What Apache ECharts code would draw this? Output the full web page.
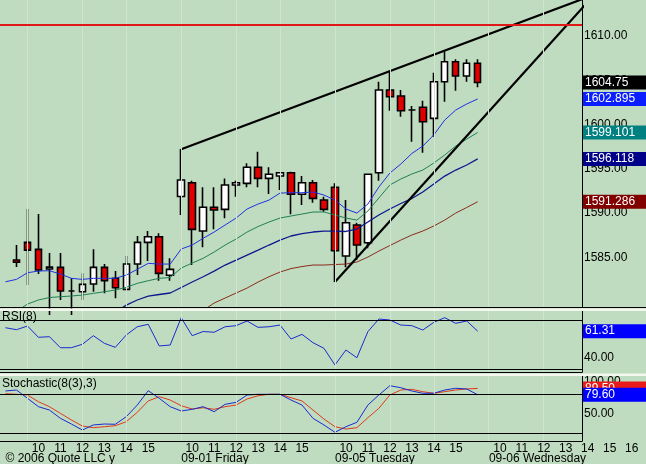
<!DOCTYPE html>
<html><head><meta charset="utf-8">
<script src="https://cdn.jsdelivr.net/npm/echarts@6/dist/echarts.min.js"></script>
<style>html,body{margin:0;padding:0;background:#C0DCC0}#c{width:646px;height:464px}</style>
</head><body><div id="c"></div>
<script>
// ---------- data ----------
const prevDaySlots = ['08-30 15:30', '08-30 16:00'];
const days = ['08-31', '09-01', '09-05', '09-06'];
const times = ['09:30','10:00','10:30','11:00','11:30','12:00','12:30','13:00','13:30','14:00','14:30','15:00','15:30','16:00'];
const hourTicks = ['', '10', '', '11', '', '12', '', '13', '', '14', '', '15', '', ''];
const lastDayHourTicks = ['', '10', '', '11', '', '12', '', '13', '', '14', '', '15', '', '16'];
const dateLabels = ['© 2006 Quote LLC y', '09-01 Friday', '09-05 Tuesday', '09-06 Wednesday'];
const priceTicks = [1585, 1590, 1595, 1600, 1605, 1610];
const rsiTicks = [40, 60];
const stochTicks = [50, 100];
const guideSlots = [2, 7, 11, 16, 21, 25, 30, 35, 39, 44, 49];
const resistance = 1611.32;

const openP  = [null, 1584.70, 1586.69, 1585.90, 1583.68, 1583.87, 1581.20, 1581.11, 1581.98, 1583.87, 1582.63, 1581.38, 1584.24, 1586.69, 1587.33, 1582.97, 1591.87, 1593.43, 1587.97, 1590.65, 1590.42, 1593.17, 1593.36, 1595.17, 1593.92, 1594.18, 1594.56, 1592.12, 1593.43, 1591.47, 1592.91, 1585.15, 1588.65, 1586.65, 1594.56, 1603.90, 1603.22, 1601.64, 1601.95, 1600.70, 1604.84, 1607.10, 1605.48, 1606.92];
const closeP = [null, 1584.44, 1585.82, 1583.57, 1583.90, 1581.19, 1581.20, 1581.95, 1583.87, 1582.36, 1581.57, 1584.24, 1586.69, 1587.33, 1583.19, 1583.64, 1593.73, 1588.16, 1590.65, 1590.34, 1593.17, 1593.43, 1595.17, 1593.92, 1594.38, 1594.56, 1592.12, 1593.43, 1591.66, 1590.42, 1585.75, 1588.91, 1586.39, 1594.38, 1603.90, 1603.14, 1601.56, 1601.64, 1600.32, 1604.84, 1607.10, 1605.48, 1606.92, 1604.75];
const lowP   = [null, 1583.90, 1581.87, 1583.11, 1578.50, 1580.18, 1578.50, 1580.18, 1581.11, 1580.93, 1580.37, 1581.30, 1583.00, 1584.58, 1582.36, 1582.36, 1589.78, 1584.13, 1586.13, 1588.16, 1589.41, 1591.85, 1592.91, 1592.91, 1592.15, 1592.60, 1589.86, 1590.91, 1591.17, 1590.15, 1582.21, 1583.87, 1584.70, 1586.02, 1593.65, 1601.56, 1600.88, 1598.06, 1596.82, 1598.62, 1602.58, 1603.82, 1604.84, 1604.20];
const highP  = [null, 1586.39, 1590.46, 1589.89, 1585.49, 1585.49, 1582.63, 1583.19, 1585.90, 1584.24, 1583.45, 1585.15, 1587.41, 1587.97, 1587.71, 1584.89, 1597.23, 1593.65, 1592.91, 1592.91, 1593.92, 1593.65, 1595.62, 1596.93, 1595.17, 1594.56, 1594.67, 1594.18, 1593.73, 1591.85, 1593.36, 1591.47, 1588.91, 1594.41, 1604.84, 1606.08, 1603.90, 1602.09, 1602.69, 1605.85, 1608.23, 1607.37, 1607.37, 1607.37];

const maBlue  = [1582.24, 1582.51, 1583.26, 1583.45, 1583.49, 1583.11, 1582.63, 1582.51, 1582.63, 1582.63, 1582.63, 1583.00, 1583.64, 1584.32, 1584.24, 1584.24, 1585.94, 1586.39, 1587.15, 1587.86, 1588.65, 1589.44, 1590.46, 1591.02, 1591.47, 1592.26, 1592.30, 1592.30, 1592.38, 1592.04, 1591.47, 1590.46, 1590.00, 1591.02, 1592.94, 1594.52, 1595.54, 1596.73, 1597.57, 1598.82, 1600.51, 1601.64, 1602.32, 1602.895];
const maGreen = [null, 1578.90, 1579.72, 1580.18, 1580.46, 1580.55, 1580.63, 1580.74, 1580.93, 1581.11, 1581.31, 1581.61, 1582.06, 1582.36, 1582.63, 1582.72, 1583.79, 1584.36, 1584.89, 1585.60, 1586.39, 1587.07, 1587.86, 1588.48, 1588.99, 1589.44, 1589.67, 1589.89, 1590.12, 1590.12, 1589.78, 1589.44, 1589.21, 1590.23, 1591.70, 1593.17, 1593.85, 1594.41, 1594.86, 1595.65, 1596.56, 1597.57, 1598.36, 1599.101];
const maNavy  = [null, null, null, null, null, null, null, null, null, null, 1578.80, 1579.60, 1580.18, 1580.63, 1580.80, 1580.97, 1581.59, 1582.21, 1582.81, 1583.45, 1584.13, 1584.69, 1585.26, 1585.82, 1586.39, 1586.95, 1587.41, 1587.69, 1587.86, 1587.97, 1587.97, 1587.92, 1588.20, 1588.99, 1589.78, 1590.46, 1591.08, 1591.64, 1592.38, 1593.28, 1594.18, 1594.86, 1595.43, 1596.118];
const maBrown = [null, null, null, null, null, null, null, null, null, null, null, null, null, null, null, null, null, null, 1579.00, 1579.84, 1580.40, 1580.97, 1581.53, 1582.21, 1582.81, 1583.34, 1583.73, 1583.96, 1584.13, 1584.13, 1584.19, 1584.24, 1584.47, 1585.03, 1585.71, 1586.33, 1586.95, 1587.52, 1587.97, 1588.54, 1589.21, 1590.00, 1590.63, 1591.286];

const upperTrendAnchors = [[16, 1597.20], [40, 1608.35]];
const lowerTrendAnchors = [[30, 1582.21], [46, 1604.19]];

const rsi8 = [64.1, 62.5, 65.5, 56.3, 56.8, 47.8, 47.8, 50.6, 57.6, 51.4, 48.1, 58.2, 64.9, 66.9, 49.2, 50.0, 72.3, 57.6, 61.0, 60.4, 64.9, 65.8, 69.6, 64.4, 64.9, 66.3, 54.9, 58.7, 51.9, 47.3, 33.7, 45.9, 39.6, 60.9, 71.2, 70.4, 66.3, 65.8, 62.2, 68.5, 72.3, 67.7, 69.6, 61.31];
const rsiLevels = [70, 30];
const stochK = [85.5, 87.0, 74.1, 61.0, 55.8, 42.9, 34.0, 24.7, 32.5, 34.0, 33.6, 45.4, 63.6, 85.9, 74.1, 61.0, 54.3, 56.9, 61.0, 53.2, 64.7, 67.8, 79.2, 80.3, 80.3, 80.3, 71.4, 63.6, 42.9, 32.5, 21.1, 29.8, 36.7, 63.6, 79.2, 93.7, 90.6, 85.5, 81.9, 81.9, 87.0, 89.7, 88.6, 79.6];
const stochD = [81.2, 80.3, 79.2, 68.8, 61.0, 50.7, 40.3, 30.9, 28.3, 29.8, 31.4, 37.6, 52.3, 69.9, 76.6, 71.4, 62.5, 57.4, 59.4, 56.9, 61.0, 63.6, 73.0, 78.1, 80.3, 80.3, 75.0, 69.9, 55.8, 41.8, 29.8, 26.2, 28.3, 43.8, 58.5, 79.2, 87.0, 88.1, 84.4, 81.9, 84.4, 87.0, 88.6, 89.5];
const stochLevels = [80, 20];

// ---------- build ----------
const FONT = '"Liberation Sans", Arial, sans-serif';
const allSlots = prevDaySlots.concat(...days.map(d => times.map(t => d + ' ' + t)));
const NMAIN = 53;
const mainSlots = allSlots.slice(0, NMAIN);
const hourLabelAt = ['', ''].concat(...days.map((d, i) => i === days.length - 1 ? lastDayHourTicks : hourTicks));
const dateLabelAt = allSlots.map(() => '');
dateLabelAt[0] = dateLabels[0];
for (let i = 1; i < days.length; i++) dateLabelAt[2 + i * times.length] = dateLabels[i];

const SLOT = 11.038, LEFT = -3;
const BG = '#C0DCC0';

const candleData = openP.map((o, i) => o == null ? ['-', '-', '-', '-'] : [o, closeP[i], lowP[i], highP[i]]);
const pairs = arr => arr.map((v, i) => [i, v]).filter(p => p[1] != null);
function extend(anchors, toSlot) {
  const [a, b] = anchors;
  const k = (b[1] - a[1]) / (b[0] - a[0]);
  return [a, [toSlot, a[1] + k * (toSlot - a[0])]];
}
const last = arr => arr[arr.length - 1];

function boxItem(value, text, bg) {
  return {
    yAxis: value,
    lineStyle: { color: 'rgba(0,0,0,0)', width: 1, type: 'solid' },
    label: {
      show: true, position: 'end', distance: 1, formatter: text,
      color: '#ffffff', backgroundColor: bg, fontSize: 12, fontFamily: FONT,
      padding: [1, 2, 0, 2], width: 60, lineHeight: 13
    }
  };
}
function levelItem(value) {
  return { yAxis: value, lineStyle: { color: '#000', width: 1, type: 'solid' }, label: { show: false } };
}
const guideLine = {
  symbol: 'none', silent: true, animation: false,
  lineStyle: { color: '#d0e2d0', width: 1, type: 'solid' },
  label: { show: false },
  data: guideSlots.map(s => ({ xAxis: s }))
};

const hiddenVal = (grid, bottomLine) => ({
  type: 'value', gridIndex: grid, min: -0.5, max: NMAIN - 0.5,
  axisLine: { show: !!bottomLine, onZero: false, lineStyle: { color: '#000', width: 1 } },
  axisTick: { show: false }, axisLabel: { show: false }, splitLine: { show: false }
});
const rightY = (grid, min, max, ticks) => ({
  type: 'value', gridIndex: grid, position: 'right', min, max,
  axisLine: { show: true, onZero: false, lineStyle: { color: '#000', width: 1 } },
  axisTick: { show: false }, splitLine: { show: false },
  axisLabel: { show: true, customValues: ticks, formatter: v => Number(v).toFixed(2), margin: 2,
    color: '#000', fontSize: 12, fontFamily: FONT }
});

const option = {
  animation: false,
  backgroundColor: BG,
  title: [
    { text: 'RSI(8)', left: 2, top: 311, padding: 0, textStyle: { fontSize: 12, fontWeight: 'normal', color: '#000', fontFamily: FONT } },
    { text: 'Stochastic(8(3),3)', left: 2, top: 378, padding: 0, textStyle: { fontSize: 12, fontWeight: 'normal', color: '#000', fontFamily: FONT } }
  ],
  grid: [
    { left: LEFT, top: 0, width: SLOT * NMAIN, height: 307 },
    { left: LEFT, top: 311, width: SLOT * NMAIN, height: 61 },
    { left: LEFT, top: 376, width: SLOT * NMAIN, height: 65 },
    { left: LEFT, top: 440, width: SLOT * allSlots.length, height: 1 }
  ],
  xAxis: [
    { type: 'category', gridIndex: 0, data: mainSlots, boundaryGap: true, show: false },
    Object.assign(hiddenVal(0, false), { show: false }),
    hiddenVal(1, true),
    hiddenVal(2, true),
    { type: 'category', gridIndex: 3, data: allSlots, boundaryGap: true, position: 'bottom',
      axisLine: { show: false }, axisTick: { show: false }, splitLine: { show: false },
      axisLabel: { interval: 0, margin: 2, color: '#000', fontSize: 12, fontFamily: FONT,
        formatter: (v, i) => hourLabelAt[i] } },
    { type: 'category', gridIndex: 3, data: allSlots, boundaryGap: true, position: 'bottom', offset: 10,
      axisLine: { show: false }, axisTick: { show: false }, splitLine: { show: false },
      axisLabel: { interval: 0, margin: 2, align: 'left', color: '#000', fontSize: 12, fontFamily: FONT,
        formatter: (v, i) => dateLabelAt[i] } }
  ],
  yAxis: [
    rightY(0, 1579.39, 1614.07, priceTicks),
    rightY(1, 27.96, 77.76, rsiTicks),
    rightY(2, 7.54, 108.83, stochTicks),
    { type: 'value', gridIndex: 3, show: false }
  ],
  series: [
    { name: 'guides', type: 'line', xAxisIndex: 1, yAxisIndex: 0, data: [], markLine: guideLine, z: 1 },
    { name: 'guidesRsi', type: 'line', xAxisIndex: 2, yAxisIndex: 1, data: [], markLine: guideLine, z: 1 },
    { name: 'guidesSto', type: 'line', xAxisIndex: 3, yAxisIndex: 2, data: [], markLine: guideLine, z: 1 },
    {
      name: 'price', type: 'candlestick', xAxisIndex: 0, yAxisIndex: 0, barWidth: 7, clip: true,
      data: candleData,
      itemStyle: { color: '#ffffff', color0: '#e00000', borderColor: '#000', borderColor0: '#000', borderWidth: 1.6 },
      markLine: {
        symbol: 'none', silent: true, animation: false,
        data: [
          { yAxis: resistance, lineStyle: { color: '#e01818', width: 2, type: 'solid' }, label: { show: false } },
          boxItem(last(closeP), last(closeP).toFixed(2), '#000000')
        ]
      }
    },
    { name: 'ma4', type: 'line', xAxisIndex: 1, yAxisIndex: 0, data: pairs(maBrown), symbol: 'none', clip: true,
      lineStyle: { color: '#8a2a1a', width: 1 },
      markLine: { symbol: 'none', silent: true, data: [boxItem(last(maBrown), last(maBrown).toFixed(3), '#800000')] } },
    { name: 'ma3', type: 'line', xAxisIndex: 1, yAxisIndex: 0, data: pairs(maNavy), symbol: 'none', clip: true,
      lineStyle: { color: '#0c1890', width: 1.3 },
      markLine: { symbol: 'none', silent: true, data: [boxItem(last(maNavy), last(maNavy).toFixed(3), '#000088')] } },
    { name: 'ma2', type: 'line', xAxisIndex: 1, yAxisIndex: 0, data: pairs(maGreen), symbol: 'none', clip: true,
      lineStyle: { color: '#1f7f55', width: 1 },
      markLine: { symbol: 'none', silent: true, data: [boxItem(last(maGreen), last(maGreen).toFixed(3), '#008080')] } },
    { name: 'ma1', type: 'line', xAxisIndex: 1, yAxisIndex: 0, data: pairs(maBlue), symbol: 'none', clip: true,
      lineStyle: { color: '#2030e0', width: 1 },
      markLine: { symbol: 'none', silent: true, data: [boxItem(last(maBlue), last(maBlue).toFixed(3), '#0a1eff')] } },
    { name: 'upperTrend', type: 'line', xAxisIndex: 1, yAxisIndex: 0, data: extend(upperTrendAnchors, 56), symbol: 'none', clip: true,
      lineStyle: { color: '#000', width: 2.2 } },
    { name: 'lowerTrend', type: 'line', xAxisIndex: 1, yAxisIndex: 0, data: extend(lowerTrendAnchors, 56), symbol: 'none', clip: true,
      lineStyle: { color: '#000', width: 2.2 } },
    { name: 'RSI', type: 'line', xAxisIndex: 2, yAxisIndex: 1, data: pairs(rsi8), symbol: 'none', clip: true,
      lineStyle: { color: '#1a2ad0', width: 1 },
      markLine: { symbol: 'none', silent: true,
        data: rsiLevels.map(levelItem).concat([boxItem(last(rsi8), last(rsi8).toFixed(2), '#0000ff')]) } },
    { name: '%D', type: 'line', xAxisIndex: 3, yAxisIndex: 2, data: pairs(stochD), symbol: 'none', clip: true,
      lineStyle: { color: '#dd3a1a', width: 1 },
      markLine: { symbol: 'none', silent: true,
        data: stochLevels.map(levelItem).concat([boxItem(last(stochD), last(stochD).toFixed(2), '#e81a1a')]) } },
    { name: '%K', type: 'line', xAxisIndex: 3, yAxisIndex: 2, data: pairs(stochK), symbol: 'none', clip: true, z: 3,
      lineStyle: { color: '#1a2ad0', width: 1 },
      markLine: { symbol: 'none', silent: true,
        data: [boxItem(last(stochK), last(stochK).toFixed(2), '#0000ff')] } }
  ],
  graphic: [
    { type: 'line', z: 100, shape: { x1: 0, y1: 307.5, x2: 646, y2: 307.5 }, style: { stroke: '#000', lineWidth: 1 } },
    { type: 'rect', z: 100, shape: { x: 0, y: 308.5, width: 646, height: 2.5 }, style: { fill: '#f4f7ee' } },
    { type: 'rect', z: 100, shape: { x: 0, y: 373.5, width: 646, height: 2.5 }, style: { fill: '#f4f7ee' } }
  ]
};

const chart = echarts.init(document.getElementById('c'), null, { renderer: 'canvas' });
chart.setOption(option);
</script>
</body></html>
